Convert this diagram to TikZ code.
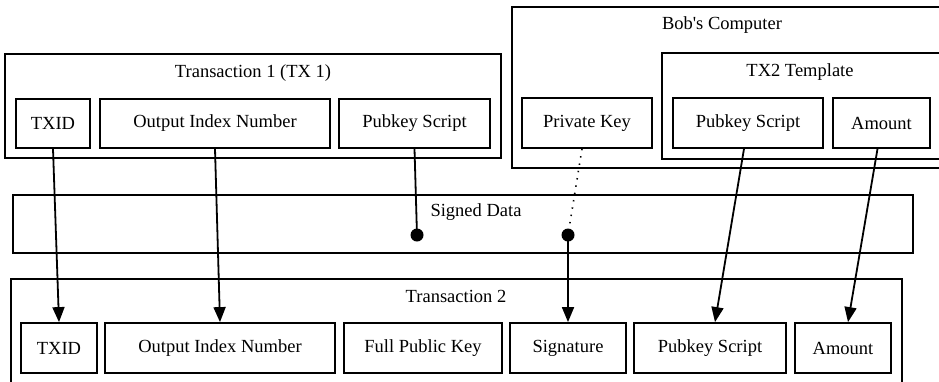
\documentclass[tikz,border=0pt]{standalone}
\usepackage{fontspec}
\setmainfont{Liberation Serif}[Ligatures=TeXOff]
\usetikzlibrary{arrows.meta}
\begin{document}
\begin{tikzpicture}[x=1pt,y=-1pt,
  every node/.style={font=\fontsize{18.5}{20}\selectfont, inner sep=0pt},
  box/.style={draw, line width=1.8pt, rectangle},
  cluster/.style={draw, line width=1.8pt, rectangle},
  lbl/.style={},
  edge/.style={line width=1.8pt},
  arr/.style={line width=1.8pt, -{Triangle[length=15pt,width=12pt]}},
  dotline/.style={line width=1.6pt, dash pattern=on 1.4pt off 6pt},
  blob/.style={fill=black}
]
\useasboundingbox (0,0) rectangle (939,381);
\clip (0,0) rectangle (939,381);

% Transaction 1
\node[cluster, minimum width=496pt, minimum height=104pt] (tx1) at (253,106) {};
\node[lbl] (tx1l) at (253,73) {Transaction 1 (TX 1)};
\node[box, minimum width=74pt, minimum height=49pt] (txid1) at (53,123.5) {TXID};
\node[box, minimum width=230pt, minimum height=49pt] (oin1) at (215,123.5) {Output Index Number};
\node[box, minimum width=151pt, minimum height=49pt] (ps1) at (414.5,123.5) {Pubkey Script};

% Bob's computer
\node[cluster, minimum width=440pt, minimum height=161pt] (bob) at (732,87.5) {};
\node[lbl] (bobl) at (722,25) {Bob's Computer};
\node[cluster, minimum width=290pt, minimum height=106pt] (tpl) at (807,106) {};
\node[lbl] (tpll) at (800,72) {TX2 Template};
\node[box, minimum width=130pt, minimum height=50pt] (pk) at (587,123) {Private Key};
\node[box, minimum width=150pt, minimum height=50pt] (ps2t) at (748,123) {Pubkey Script};
\node[box, minimum width=97pt, minimum height=50pt] (amtt) at (881.5,123) {Amount};

% Signed data
\node[cluster, minimum width=900pt, minimum height=58pt] (sd) at (463,224) {};
\node[lbl] (sdl) at (476,212) {Signed Data};
\coordinate (d1) at (417,235);
\coordinate (d2) at (568,235);

% Transaction 2
\node[cluster, minimum width=891pt, minimum height=160pt] (tx2) at (456.5,359) {};
\node[lbl] (tx2l) at (456,296) {Transaction 2};
\node[box, minimum width=76pt, minimum height=50pt] (txid2) at (59,348) {TXID};
\node[box, minimum width=230pt, minimum height=50pt] (oin2) at (220,348) {Output Index Number};
\node[box, minimum width=158pt, minimum height=50pt] (fpk) at (423,348) {Full Public Key};
\node[box, minimum width=116pt, minimum height=50pt] (sig) at (568,348) {Signature};
\node[box, minimum width=152pt, minimum height=50pt] (ps2) at (710,348) {Pubkey Script};
\node[box, minimum width=96pt, minimum height=50pt] (amt2) at (843,348) {Amount};

% Edges
\draw[arr] (txid1.south) -- (txid2.north);
\draw[arr] (oin1.south) -- (oin2.north);
\draw[edge] (ps1.south) -- (d1);
\fill[blob] (d1) circle (6.5pt);
\draw[dotline] ([xshift=-5pt]pk.south) -- (d2);
\fill[blob] (d2) circle (6.5pt);
\draw[arr] (d2) -- (sig.north);
\draw[arr] ([xshift=-4pt]ps2t.south) -- ([xshift=5pt]ps2.north);
\draw[arr] ([xshift=-4pt]amtt.south) -- ([xshift=5pt]amt2.north);
\end{tikzpicture}
\end{document}
